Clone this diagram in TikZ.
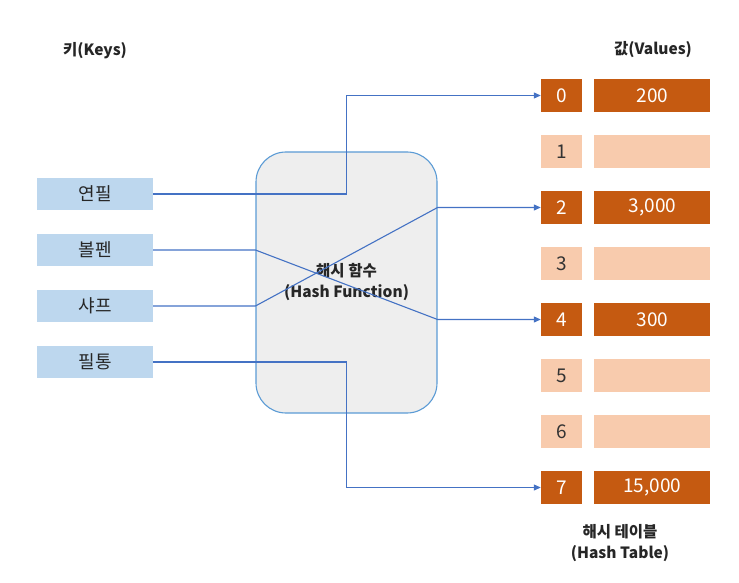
\documentclass[tikz,border=0pt]{standalone}
\usepackage{fontspec}
\setmainfont{Noto Sans CJK KR}
\usetikzlibrary{positioning,arrows.meta}
\definecolor{keyblue}{HTML}{BDD7EE}
\definecolor{linkblue}{HTML}{4472C4}
\definecolor{boxblue}{HTML}{5B9BD5}
\definecolor{hot}{HTML}{C55A11}
\definecolor{cold}{HTML}{F8CBAD}
\definecolor{hfgray}{HTML}{EEEEEE}

\begin{document}
\begin{tikzpicture}[x=1pt,y=-1pt,node distance=56pt]
    \tikzstyle{key}=[fill=keyblue, minimum width=116pt, minimum height=32pt,
        inner sep=0pt, font=\fontsize{18}{20}\selectfont, text=black!85]
    \tikzstyle{idx}=[minimum width=41pt, minimum height=33pt, inner sep=0pt,
        font=\fontsize{19}{20}\selectfont]
    \tikzstyle{val}=[idx, minimum width=116pt]
    \tikzstyle{full}=[fill=hot, text=white]
    \tikzstyle{empty}=[fill=cold, text=black!80]
    \tikzstyle{title}=[font=\bfseries\fontsize{15.5}{21}\selectfont, align=center, text=black!85]
    \tikzstyle{link}=[draw=linkblue, line width=1.1pt, -{Triangle[length=7pt,width=6pt]}]

    \useasboundingbox (0,0) rectangle (739,583);

    % keys
    \node[title] (keys) at (95,51) {키(Keys)};
    \node[key] (k1) at (95,194) {연필};
    \node[key] [below of=k1] (k2) {볼펜};
    \node[key] [below of=k2] (k3) {샤프};
    \node[key] [below of=k3] (k4) {필통};

    % hash function
    \node[draw=boxblue, fill=hfgray, line width=1.1pt, rounded corners=30pt,
        minimum width=181pt, minimum height=261pt] (hf) at (346.5,282.5) {};
    \node[title] at (hf.center) {해시 함수\\(Hash Function)};

    % table
    \node[title] (vals) at (653,50) {값(Values)};
    \node[idx, full] (i0) at (561.5,95.5) {0};
    \node[idx, empty] [below of=i0] (i1) {1};
    \node[idx, full] [below of=i1] (i2) {2};
    \node[idx, empty] [below of=i2] (i3) {3};
    \node[idx, full] [below of=i3] (i4) {4};
    \node[idx, empty] [below of=i4] (i5) {5};
    \node[idx, empty] [below of=i5] (i6) {6};
    \node[idx, full] [below of=i6] (i7) {7};
    \node[val, full] [right=12pt of i0] (v0) {200};
    \node[val, empty] [right=12pt of i1] (v1) {};
    \node[val, full] [right=12pt of i2] (v2) {3,000};
    \node[val, empty] [right=12pt of i3] (v3) {};
    \node[val, full] [right=12pt of i4] (v4) {300};
    \node[val, empty] [right=12pt of i5] (v5) {};
    \node[val, empty] [right=12pt of i6] (v6) {};
    \node[val, full] [right=12pt of i7] (v7) {15,000};
    \node[title] (table) at (620,543) {해시 테이블\\(Hash Table)};

    % links
    \draw[link] (k1.east) -| (hf.center |- i0.west) -- (i0.west);
    \draw[link] (k2.east) -- (k2.east -| hf.west) -- (hf.east |- i4.west) -- (i4.west);
    \draw[link] (k3.east) -- (k3.east -| hf.west) -- (hf.east |- i2.west) -- (i2.west);
    \draw[link] (k4.east) -| (hf.center |- i7.west) -- (i7.west);
\end{tikzpicture}
\end{document}
